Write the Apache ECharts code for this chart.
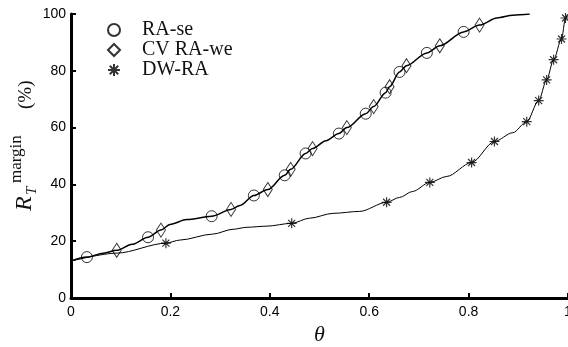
<!DOCTYPE html>
<html>
<head>
<meta charset="utf-8">
<script src="https://cdn.jsdelivr.net/npm/echarts@6/dist/echarts.min.js"></script>
<style>
  html, body { margin: 0; padding: 0; background: #fff; }
  #chart { width: 568px; height: 347px; }
</style>
</head>
<body>
<div id="chart"></div>
<script>
// curve through RA-se / CV RA-we  [theta, R %]
const raCurve = [
  [0, 13.0], [0.032, 14.4], [0.065, 15.8], [0.092, 16.8], [0.123, 18.9],
  [0.155, 21.4], [0.181, 23.9], [0.199, 25.9], [0.233, 27.6], [0.283, 28.8],
  [0.322, 31.2], [0.340, 32.6], [0.368, 36.1], [0.396, 38.2], [0.430, 43.2],
  [0.442, 45.3], [0.472, 50.9], [0.486, 52.6], [0.513, 55.4], [0.539, 57.9],
  [0.555, 60.0], [0.593, 64.9], [0.609, 67.4], [0.633, 72.3], [0.641, 74.4],
  [0.661, 79.6], [0.675, 81.8], [0.716, 86.3], [0.742, 88.8], [0.790, 93.7],
  [0.822, 96.1], [0.857, 98.6], [0.889, 99.6], [0.923, 100]
];
// DW-RA curve
const dwCurve = [
  [0, 13.0], [0.092, 15.8], [0.191, 19.3], [0.219, 20.4], [0.285, 22.5],
  [0.326, 24.2], [0.354, 24.9], [0.394, 25.3], [0.444, 26.3], [0.480, 28.1],
  [0.527, 29.8], [0.581, 30.5], [0.635, 33.7], [0.661, 35.4], [0.687, 37.5],
  [0.722, 40.7], [0.756, 42.8], [0.806, 47.7], [0.852, 55.1], [0.889, 58.2],
  [0.917, 62.1], [0.941, 69.5], [0.957, 76.8], [0.971, 83.9], [0.987, 91.2],
  [0.995, 98.6], [0.999, 100]
];
// marker positions
const raSe = [
  [0.032, 14.4], [0.155, 21.4], [0.283, 28.8], [0.368, 36.1], [0.430, 43.2],
  [0.472, 50.9], [0.539, 57.9], [0.593, 64.9], [0.633, 72.3], [0.661, 79.6],
  [0.716, 86.3], [0.790, 93.7]
];
const cvRaWe = [
  [0.092, 16.8], [0.181, 23.9], [0.322, 31.2], [0.396, 38.2], [0.442, 45.3],
  [0.486, 52.6], [0.555, 60.0], [0.609, 67.4], [0.641, 74.4], [0.675, 81.8],
  [0.742, 88.8], [0.822, 96.1]
];
const dwRa = [
  [0.191, 19.3], [0.444, 26.3], [0.635, 33.7], [0.722, 40.7], [0.806, 47.7],
  [0.852, 55.1], [0.917, 62.1], [0.941, 69.5], [0.957, 76.8], [0.971, 83.9],
  [0.987, 91.2], [0.995, 98.6]
];
const legendNames = ['RA-se', 'CV RA-we', 'DW-RA'];

const star = 'path://M5,0L5,10M0,5L10,5M1.5,1.5L8.5,8.5M1.5,8.5L8.5,1.5';
const serif = "'Liberation Serif', 'DejaVu Serif', serif";
const sans = "'Liberation Sans', Arial, sans-serif";

const chart = echarts.init(document.getElementById('chart'));

function axisStyle(labelMargin) {
  return {
    axisLine: { show: true, lineStyle: { color: '#000', width: 3 } },
    axisTick: { show: true, inside: true, length: 5, lineStyle: { color: '#000', width: 2 } },
    axisLabel: { color: '#000', fontFamily: sans, fontSize: 14, margin: labelMargin },
    splitLine: { show: false }
  };
}

chart.setOption({
  animation: false,
  grid: { left: 71, right: 0, top: 14, bottom: 49, containLabel: false, outerBoundsMode: 'none' },
  legend: {
    data: legendNames,
    orient: 'vertical',
    left: 107,
    top: 20,
    padding: 0,
    itemWidth: 12,
    itemHeight: 12,
    itemGap: 0,
    textStyle: { fontFamily: serif, fontSize: 20, lineHeight: 19, color: '#111', padding: [0, 0, 0, 17] }
  },
  xAxis: Object.assign({
    type: 'value', min: 0, max: 1, interval: 0.2,
    name: 'θ', nameLocation: 'middle', nameGap: 25,
    nameTextStyle: { fontFamily: serif, fontStyle: 'italic', fontSize: 22, color: '#111' }
  }, axisStyle(7)),
  yAxis: Object.assign({
    type: 'value', min: 0, max: 100, interval: 20
  }, axisStyle(5)),
  // y axis title: R_T^margin (%), drawn rotated
  graphic: [{
    type: 'group',
    x: 32, y: 211,
    rotation: Math.PI / 2,
    children: [
      { type: 'text', x: 0, y: 5, style: { text: 'R', font: 'italic 24px ' + serif, fill: '#111', verticalAlign: 'bottom' } },
      { type: 'text', x: 16, y: 8, style: { text: 'T', font: 'italic 15px ' + serif, fill: '#111', verticalAlign: 'bottom' } },
      { type: 'text', x: 28, y: -7, style: { text: 'margin', font: '17px ' + serif, fill: '#111', verticalAlign: 'bottom' } },
      { type: 'text', x: 102, y: 4, style: { text: '(%)', font: '19px ' + serif, fill: '#111', verticalAlign: 'bottom' } }
    ]
  }],
  series: [
    {
      type: 'line', data: raCurve, smooth: 0.3, smoothMonotone: 'x',
      showSymbol: false, silent: true,
      lineStyle: { color: '#000', width: 1.5 }
    },
    {
      type: 'line', data: dwCurve, smooth: 0.3, smoothMonotone: 'x',
      showSymbol: false, silent: true,
      lineStyle: { color: '#000', width: 1 }
    },
    {
      name: 'RA-se', type: 'scatter', data: raSe, symbol: 'circle', symbolSize: 11,
      itemStyle: { color: 'transparent', borderColor: '#000', borderWidth: 1 }
    },
    {
      name: 'CV RA-we', type: 'scatter', data: cvRaWe, symbol: 'diamond', symbolSize: [9, 14],
      itemStyle: { color: 'transparent', borderColor: '#000', borderWidth: 1 }
    },
    {
      name: 'DW-RA', type: 'scatter', data: dwRa, symbol: star, symbolSize: 10,
      itemStyle: { color: 'transparent', borderColor: '#000', borderWidth: 1.2 }
    }
  ]
});
</script>
</body>
</html>
